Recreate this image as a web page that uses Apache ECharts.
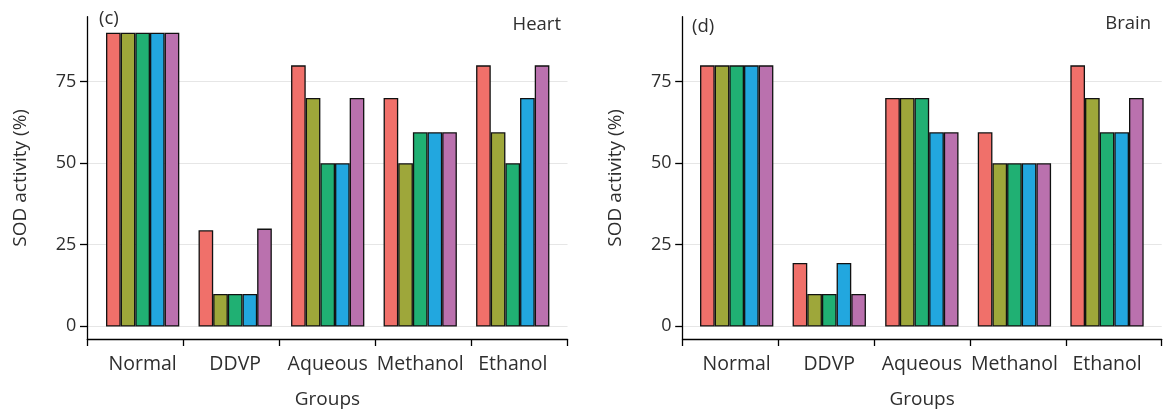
<!DOCTYPE html>
<html>
<head>
<meta charset="utf-8">
<script src="https://cdn.jsdelivr.net/npm/echarts@6/dist/echarts.min.js"></script>
<style>
html,body{margin:0;padding:0;background:#fff;}
#chart{width:1173px;height:414px;}
</style>
</head>
<body>
<div id="chart"></div>
<script>
// ---- data ----
var categories = ['Normal', 'DDVP', 'Aqueous', 'Methanol', 'Ethanol'];
var seriesNames = ['S1', 'S2', 'S3', 'S4', 'S5'];
var yTicks = [0, 25, 50, 75];

var heartS1 = [90, 29.5, 80, 70, 80];
var heartS2 = [90, 10, 70, 50, 59.5];
var heartS3 = [90, 10, 50, 59.5, 50];
var heartS4 = [90, 10, 50, 59.5, 70];
var heartS5 = [90, 30, 70, 59.5, 80];

var brainS1 = [80, 19.5, 70, 59.5, 80];
var brainS2 = [80, 10, 70, 50, 70];
var brainS3 = [80, 10, 70, 50, 59.5];
var brainS4 = [80, 19.5, 59.5, 50, 59.5];
var brainS5 = [80, 10, 59.5, 50, 70];

// ---- style ----
var colors = ['#F0706A', '#9EA73A', '#20B073', '#22A7DF', '#BA71AE'];
var FONT = 'Open Sans';
var TXT = '#2e2e2e';
var Y_MIN = -3.9, Y_MAX = 94.9;
var TOP = 16.7, HEIGHT = 322.6;

var panels = [
  { axisLeft: 87.3, axisWidth: 480.2, barLeft: 96.4, barWidth: 462.6,
    data: [heartS1, heartS2, heartS3, heartS4, heartS5] },
  { axisLeft: 682.5, axisWidth: 479.2, barLeft: 690.4, barWidth: 462.9,
    data: [brainS1, brainS2, brainS3, brainS4, brainS5] }
];

var grid = [], xAxis = [], yAxis = [], series = [];
panels.forEach(function (p, i) {
  var gA = grid.length;
  grid.push({ left: p.axisLeft, top: TOP, width: p.axisWidth, height: HEIGHT });
  var gB = grid.length;
  grid.push({ left: p.barLeft, top: TOP, width: p.barWidth, height: HEIGHT });

  // axis grid: x line with ticks at boundaries
  xAxis.push({
    gridIndex: gA, type: 'value', min: 0, max: 5, interval: 1,
    axisLine: { show: true, onZero: false, lineStyle: { color: '#000', width: 1.3 } },
    axisTick: { show: true, inside: false, length: 7, lineStyle: { color: '#000', width: 1.3 } },
    axisLabel: { show: false },
    splitLine: { show: false },
    name: 'Groups', nameLocation: 'middle', nameGap: 51,
    nameTextStyle: { fontFamily: FONT, fontSize: 19, color: TXT }
  });
  yAxis.push({
    gridIndex: gA, type: 'value', min: Y_MIN, max: Y_MAX,
    axisLine: { show: true, onZero: false, lineStyle: { color: '#000', width: 1.3 } },
    axisTick: { show: true, inside: false, length: 7.3, customValues: yTicks,
                lineStyle: { color: '#000', width: 1.3 } },
    axisLabel: { show: true, customValues: yTicks, margin: 11,
                 fontFamily: FONT, fontSize: 18, color: TXT },
    splitLine: { show: true, lineStyle: { color: '#e6e6e6', width: 1.2 } },
    name: 'SOD activity (%)', nameLocation: 'middle', nameGap: 57,
    nameTextStyle: { fontFamily: FONT, fontSize: 19, color: TXT }
  });

  // bar grid
  xAxis.push({
    gridIndex: gB, type: 'category', data: categories,
    axisLine: { show: false, onZero: false }, axisTick: { show: false },
    axisLabel: { show: true, margin: 15, fontFamily: FONT, fontSize: 19.5, color: TXT, interval: 0 },
    splitLine: { show: false }
  });
  yAxis.push({
    gridIndex: gB, type: 'value', min: Y_MIN, max: Y_MAX, show: false,
    axisLine: { onZero: false },
    splitLine: { show: false }
  });

  p.data.forEach(function (vals, k) {
    series.push({
      type: 'bar', name: seriesNames[k],
      xAxisIndex: gB, yAxisIndex: gB,
      data: vals,
      barGap: '0%', barCategoryGap: '20.8%',
      itemStyle: { color: colors[k], borderColor: '#111', borderWidth: 1.3 },
      emphasis: { disabled: true },
      animation: false
    });
  });
});

var chart = echarts.init(document.getElementById('chart'), null, { renderer: 'canvas' });
chart.setOption({
  backgroundColor: '#fff',
  animation: false,
  grid: grid, xAxis: xAxis, yAxis: yAxis, series: series,
  graphic: [
    { type: 'text', left: 99, top: 9, style: { text: '(c)', fontFamily: FONT, fontSize: 18.5, fill: TXT } },
    { type: 'text', right: 1173 - 561, top: 15, style: { text: 'Heart', fontFamily: FONT, fontSize: 18.5, fill: TXT } },
    { type: 'text', left: 692, top: 17, style: { text: '(d)', fontFamily: FONT, fontSize: 18.5, fill: TXT } },
    { type: 'text', right: 1173 - 1151, top: 14, style: { text: 'Brain', fontFamily: FONT, fontSize: 18.5, fill: TXT } }
  ]
});
</script>
</body>
</html>
